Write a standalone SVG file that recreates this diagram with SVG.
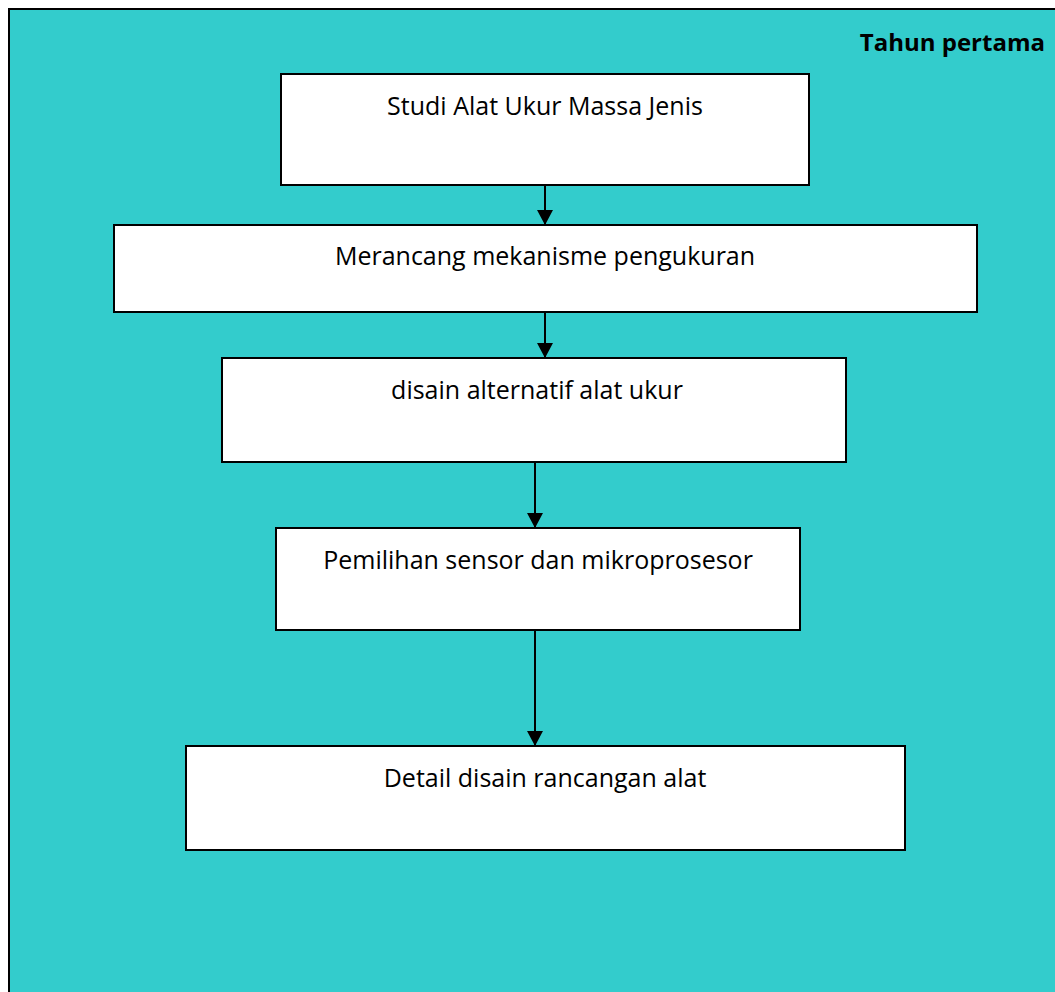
<svg xmlns="http://www.w3.org/2000/svg" width="1055" height="992" viewBox="0 0 1055 992">
<defs>
<style>
.bg{fill:#33CCCC;stroke:#000;stroke-width:2}
.box{fill:#fff;stroke:#000;stroke-width:2}
.t{font-family:"Open Sans","Liberation Sans",Arial,sans-serif;font-size:25px;fill:#000;text-anchor:middle}
.h{font-family:"Open Sans","Liberation Sans",Arial,sans-serif;font-size:24px;font-weight:bold;fill:#000;text-anchor:end}
.c{stroke:#000;stroke-width:2;fill:none;marker-end:url(#ah)}
</style>
<marker id="ah" markerWidth="16" markerHeight="16" refX="15" refY="8" orient="auto" markerUnits="userSpaceOnUse">
<path d="M0,0 L15,8 L0,16 Z" fill="#000"/>
</marker>
</defs>
<rect class="bg" x="9" y="9" width="1060" height="1000"/>
<text class="h" x="1045" y="51">Tahun pertama</text>
<g id="n1"><rect class="box" x="281" y="74" width="528" height="111"/><text class="t" x="545" y="115">Studi Alat Ukur Massa Jenis</text></g>
<g id="n2"><rect class="box" x="114" y="225" width="863" height="87"/><text class="t" x="545" y="265">Merancang mekanisme pengukuran</text></g>
<g id="n3"><rect class="box" x="222" y="358" width="624" height="104"/><text class="t" x="537" y="399">disain alternatif alat ukur</text></g>
<g id="n4"><rect class="box" x="276" y="528" width="524" height="102"/><text class="t" x="538" y="569">Pemilihan sensor dan mikroprosesor</text></g>
<g id="n5"><rect class="box" x="186" y="746" width="719" height="104"/><text class="t" x="545" y="787">Detail disain rancangan alat</text></g>
<g id="connectors">
<line class="c" x1="545" y1="185" x2="545" y2="225"/>
<line class="c" x1="545" y1="312" x2="545" y2="358"/>
<line class="c" x1="535" y1="462" x2="535" y2="528"/>
<line class="c" x1="535" y1="630" x2="535" y2="746"/>
</g>
</svg>
